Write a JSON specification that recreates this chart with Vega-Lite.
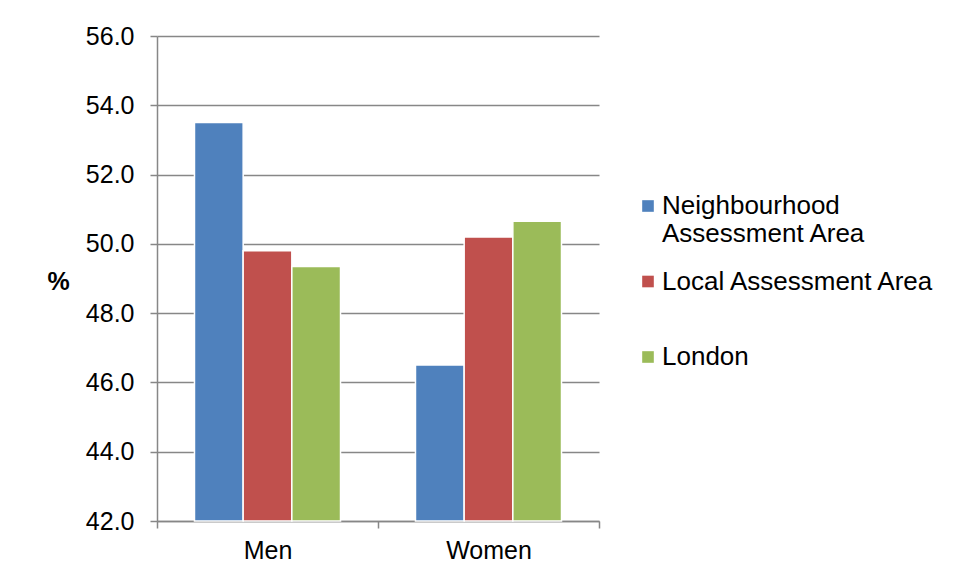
{
  "$schema": "https://vega.github.io/schema/vega-lite/v6.json",
  "autosize": {"type": "none"},
  "width": 442,
  "height": 485,
  "padding": {"left": 157, "top": 36, "right": 356, "bottom": 58},
  "background": "white",
  "config": {
    "view": {"stroke": null},
    "font": "Liberation Sans"
  },
  "data": {
    "values": [
      {"sex": "Men", "area": "Neighbourhood Assessment Area", "pct": 53.5},
      {"sex": "Men", "area": "Local Assessment Area", "pct": 49.8},
      {"sex": "Men", "area": "London", "pct": 49.35},
      {"sex": "Women", "area": "Neighbourhood Assessment Area", "pct": 46.5},
      {"sex": "Women", "area": "Local Assessment Area", "pct": 50.2},
      {"sex": "Women", "area": "London", "pct": 50.65}
    ]
  },
  "mark": {"type": "bar", "stroke": "white", "strokeWidth": 1.5},
  "encoding": {
    "x": {
      "field": "sex",
      "type": "nominal",
      "sort": ["Men", "Women"],
      "scale": {"paddingInner": 0, "paddingOuter": 0},
      "axis": {
        "title": null,
        "labelAngle": 0,
        "labelFontSize": 25,
        "labelColor": "black",
        "labelPadding": 10,
        "domainColor": "#878787",
        "domainWidth": 1.5,
        "tickColor": "#878787",
        "tickWidth": 1.5,
        "tickSize": 7,
        "tickBand": "extent",
        "grid": false
      }
    },
    "xOffset": {
      "field": "area",
      "type": "nominal",
      "sort": ["Neighbourhood Assessment Area", "Local Assessment Area", "London"],
      "scale": {"paddingOuter": 0.77, "paddingInner": 0}
    },
    "y": {
      "field": "pct",
      "type": "quantitative",
      "scale": {"domain": [42, 56], "zero": false, "nice": false, "clamp": true},
      "axis": {
        "title": "%",
        "titleAngle": 0,
        "titleFontSize": 25,
        "titleFontWeight": "bold",
        "titleColor": "black",
        "titleX": -99,
        "titleY": 245,
        "titleAlign": "center",
        "titleBaseline": "middle",
        "values": [42, 44, 46, 48, 50, 52, 54, 56],
        "format": ".1f",
        "labelFontSize": 25,
        "labelColor": "black",
        "labelPadding": 16,
        "domainColor": "#878787",
        "domainWidth": 1.5,
        "tickColor": "#878787",
        "tickWidth": 1.5,
        "tickSize": 7,
        "grid": true,
        "gridColor": "#878787",
        "gridWidth": 1.5
      }
    },
    "color": {
      "field": "area",
      "type": "nominal",
      "sort": ["Neighbourhood Assessment Area", "Local Assessment Area", "London"],
      "scale": {
        "domain": ["Neighbourhood Assessment Area", "Local Assessment Area", "London"],
        "range": ["#4F81BD", "#C0504D", "#9BBB59"]
      },
      "legend": {
        "title": null,
        "orient": "none",
        "legendX": 478,
        "legendY": 157,
        "gridAlign": "all",
        "symbolType": "square",
        "symbolSize": 135,
        "symbolStrokeWidth": 0,
        "labelFontSize": 26,
        "labelColor": "black",
        "labelOffset": 1,
        "labelLimit": 400,
        "rowPadding": 21.5,
        "labelExpr": "datum.label == 'Neighbourhood Assessment Area' ? ['Neighbourhood', 'Assessment Area'] : datum.label"
      }
    }
  }
}
